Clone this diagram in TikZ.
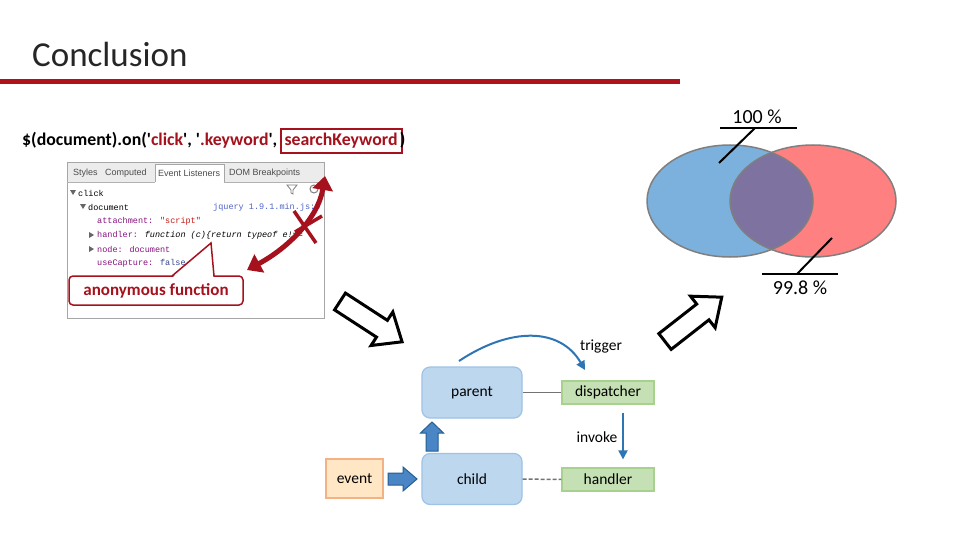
\documentclass[tikz,border=0pt]{standalone}
\usepackage{fontspec}
\setmainfont{Carlito}
\newfontfamily\monof{Liberation Mono}
\newfontfamily\uif{Liberation Sans}
\usetikzlibrary{arrows.meta}
\definecolor{cred}{RGB}{165,17,28}
\definecolor{rulered}{RGB}{176,18,27}
\definecolor{vblue}{RGB}{124,177,221}
\definecolor{vred}{RGB}{255,128,128}
\definecolor{vmix}{RGB}{126,115,160}
\definecolor{vborder}{RGB}{127,127,127}
\definecolor{boxblue}{RGB}{189,215,238}
\definecolor{boxblueb}{RGB}{157,195,230}
\definecolor{boxgreen}{RGB}{197,224,180}
\definecolor{boxgreenb}{RGB}{169,209,142}
\definecolor{boxorange}{RGB}{255,230,196}
\definecolor{boxorangeb}{RGB}{244,177,131}
\definecolor{arrblue}{RGB}{46,117,182}
\definecolor{fillblue}{RGB}{74,134,198}
\definecolor{dtpurple}{RGB}{136,18,128}
\definecolor{dtred}{RGB}{196,26,22}
\definecolor{dtblue}{RGB}{80,100,200}
\definecolor{tabgray}{RGB}{236,236,236}
\newcommand\sq{\textquotesingle}
\begin{document}
\begin{tikzpicture}[x=1pt,y=-1pt,
  lbl/.style={font=\fontsize{15.5}{18}\selectfont, inner sep=0pt},
  codetxt/.style={font=\bfseries\fontsize{17.8}{20}\selectfont, inner sep=0pt},
  mono/.style={font=\monof\fontsize{8.5}{10}\selectfont, inner sep=0pt, anchor=west},
  tabtxt/.style={font=\uif\fontsize{9}{10}\selectfont, text=black!70, inner sep=0pt, anchor=west},
  bluebox/.style={draw=boxblueb, fill=boxblue, line width=1.2pt, rounded corners=8pt, minimum width=100pt, minimum height=51pt, font=\fontsize{15.5}{18}\selectfont},
  greenbox/.style={draw=boxgreenb, fill=boxgreen, line width=1.2pt, minimum width=92pt, minimum height=23pt, font=\fontsize{15.5}{18}\selectfont},
  orangebox/.style={draw=boxorangeb, fill=boxorange, line width=1.2pt, minimum width=57pt, minimum height=39pt, font=\fontsize{15.5}{18}\selectfont},
  hollowarrow/.style={draw=black, line width=3pt, fill=white, line join=miter},
  solidarrow/.style={draw=arrblue!80!black, fill=fillblue, line width=1pt},
  tri/.style={fill=black!60},
  leader/.style={draw=black, line width=2pt}
]
\useasboundingbox (0,0) rectangle (960,540);
\fill[white] (0,0) rectangle (960,540);

% title
\node[anchor=base west, font=\fontsize{35}{40}\selectfont, text=black!85, inner sep=0pt] (title) at (32,67) {Conclusion};
\fill[rulered] (0,79) rectangle (680,84);

% code line
\node[codetxt, anchor=west] (code) at (22,140) {\$(document).on(\sq\textcolor{cred}{click}\sq, \sq\textcolor{cred}{.keyword}\sq,};
\node[codetxt, anchor=west, text=cred, draw=cred, line width=2pt, inner xsep=4pt, minimum height=24pt] (sk) at ([xshift=2pt,yshift=-1pt]code.east) {searchKeyword};
\node[codetxt, anchor=west] (paren) at ([xshift=-3pt,yshift=1pt]sk.east) {)};

% devtools panel
\draw[black!35, fill=white, line width=1pt] (67,163) rectangle (324,318);
\fill[tabgray] (67.5,163.5) rectangle (323.5,182);
\draw[black!30] (67,182) -- (155,182) (224,182) -- (324,182);
\draw[black!35, fill=white] (155,182) -- (155,164) -- (224,164) -- (224,182);
\node[tabtxt] (t1) at (73,173) {Styles};
\node[tabtxt] (t2) at (105,173) {Computed};
\node[tabtxt] (t3) at (158,173) {Event Listeners};
\node[tabtxt] (t4) at (229,173) {DOM Breakpoints};
\begin{scope}
\clip (67,182) rectangle (324,318);
\draw[black!50, line width=0.8pt] (287,185) -- (297,185) -- (293,190) -- (293,194) -- (291,193) -- (291,190) -- cycle;
\draw[black!50, line width=1pt] (314,189) circle (4);
\fill[tri] (70,190) -- (76,190) -- (73,195) -- cycle;
\node[mono] (l1) at (78,193) {click};
\fill[tri] (80,204) -- (86,204) -- (83,209) -- cycle;
\node[mono] (l2) at (88,207) {document};
\node[mono, text=dtblue] (l2b) at (213,207) {jquery 1.9.1.min.js:5};
\node[mono] (l3) at (97,221) {\textcolor{dtpurple}{attachment:} \textcolor{dtred}{"script"}};
\fill[tri] (89,232) -- (94,235) -- (89,238) -- cycle;
\node[mono] (l4) at (97,235) {\textcolor{dtpurple}{handler:} \textit{function (c)\{return typeof e!==}};
\fill[tri] (89,246) -- (94,249) -- (89,252) -- cycle;
\node[mono] (l5) at (97,249) {\textcolor{dtpurple}{node:} \textcolor{dtpurple}{document}};
\node[mono] (l6) at (97,263) {\textcolor{dtpurple}{useCapture:} \textcolor{dtblue!70!black}{false}};
\end{scope}

% callout
\node[draw=cred, line width=1.5pt, fill=white, rounded corners=4pt, minimum width=174pt, minimum height=29pt, text=cred, font=\bfseries\fontsize{17}{20}\selectfont] (anon) at (156,290.5) {anonymous function};
\fill[white] (172.5,277.5) -- (211,243) -- (213.5,277.5) -- cycle;
\draw[cred, line width=1.5pt, line join=miter] (172,276) -- (211,243) -- (214,276);

% red double arrow + cross
\coordinate (ra1) at (247,270);
\coordinate (ra2) at (325,176);
\draw[cred, line width=5pt, {Triangle[length=14pt,width=20pt]}-{Triangle[length=14pt,width=20pt]}] (ra1) .. controls (288,248) and (318,218) .. (ra2);
\draw[cred, line width=3.5pt] (294,211) -- (316,243);
\draw[cred, line width=3.5pt] (322,216) -- (295,232);

% hollow block arrows
\begin{scope}[shift={(340,301.5)}, rotate=-33]
\draw[hollowarrow] (0,-10) -- (50,-10) -- (50,-20) -- (74,0) -- (50,20) -- (50,10) -- (0,10) -- cycle;
\end{scope}
\begin{scope}[shift={(665,341.5)}, rotate=38]
\draw[hollowarrow] (0,-10) -- (48,-10) -- (48,-20) -- (72,0) -- (48,20) -- (48,10) -- (0,10) -- cycle;
\end{scope}

% venn
\fill[vblue] (730,201) ellipse [x radius=83, y radius=56];
\fill[vred] (813,201) ellipse [x radius=83, y radius=56];
\begin{scope}
\clip (730,201) ellipse [x radius=83, y radius=56];
\fill[vmix] (813,201) ellipse [x radius=83, y radius=56];
\end{scope}
\draw[vborder, line width=1.5pt] (730,201) ellipse [x radius=83, y radius=56];
\draw[vborder, line width=1.5pt] (813,201) ellipse [x radius=83, y radius=56];
\node[font=\fontsize{20}{22}\selectfont, inner sep=0pt] (p100) at (757,117) {100 \%};
\coordinate (u1a) at (720,128);
\coordinate (u1b) at (797,128);
\coordinate (u1c) at (755,128);
\coordinate (u1d) at (719,163);
\draw[leader] (u1a) -- (u1b);
\draw[leader] (u1c) -- (u1d);
\node[font=\fontsize{20}{22}\selectfont, inner sep=0pt] (p998) at (800,288) {99.8 \%};
\coordinate (u2a) at (762,274);
\coordinate (u2b) at (838,274);
\coordinate (u2c) at (797,274);
\coordinate (u2d) at (832,238);
\draw[leader] (u2a) -- (u2b);
\draw[leader] (u2c) -- (u2d);

% event diagram
\node[bluebox] (parent) at (472,392.5) {parent};
\node[bluebox] (child) at (472,479) {child};
\node[greenbox] (disp) at (608,392.5) {dispatcher};
\node[greenbox] (hand) at (608,479.5) {handler};
\node[orangebox] (event) at (354.5,478.5) {event};
\draw[black!55, line width=1.5pt] (parent) -- (disp);
\draw[black!55, line width=1.5pt, dash pattern=on 4pt off 2pt] (child) -- (hand);
\begin{scope}[shift={(388,479)}]
\draw[solidarrow] (0,-6) -- (15,-6) -- (15,-12) -- (29,0) -- (15,12) -- (15,6) -- (0,6) -- cycle;
\end{scope}
\begin{scope}[shift={(432,451)}]
\draw[solidarrow] (-6,0) -- (-6,-18) -- (-11.5,-18) -- (0,-29) -- (11.5,-18) -- (6,-18) -- (6,0) -- cycle;
\end{scope}
\coordinate (tr1) at (459,361);
\coordinate (tr2) at (585,370);
\draw[arrblue, line width=2pt, -{Triangle[length=9pt,width=9pt]}] (tr1) .. controls (510,327) and (560,327) .. (tr2);
\node[lbl] (trig) at (601,346) {trigger};
\draw[arrblue, line width=2pt, -{Triangle[length=9pt,width=9pt]}] ([xshift=15pt,yshift=-8pt]disp.south) -- ([xshift=15pt,yshift=8pt]hand.north);
\node[lbl] (inv) at (597,437) {invoke};
\end{tikzpicture}
\end{document}
